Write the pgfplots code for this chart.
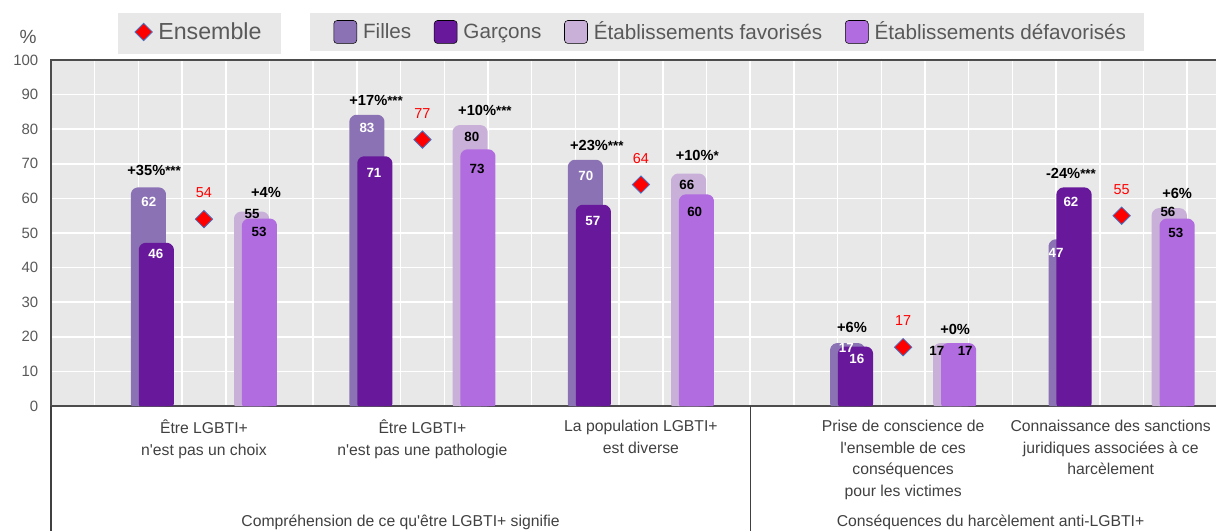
\documentclass[border=0pt]{standalone}
\usepackage{fontspec}
\setmainfont[Ligatures=TeXOff]{Liberation Sans}
\usepackage{pgfplots}
\pgfplotsset{compat=1.18}
\definecolor{filles}{RGB}{139,114,180}
\definecolor{garcons}{RGB}{104,25,155}
\definecolor{fav}{RGB}{200,176,216}
\definecolor{defav}{RGB}{177,108,224}
\definecolor{plotbg}{RGB}{232,232,232}
\definecolor{ensblue}{RGB}{68,114,196}
\definecolor{txtgrey}{RGB}{89,89,89}
\definecolor{labgrey}{RGB}{64,64,64}
\newcommand{\stars}[1]{{\fontsize{10}{10}\selectfont #1}}

\pgfplotsset{
  ensleg/.style={legend image code/.code={\draw[##1] plot coordinates {(0pt,0pt)};}},
  barleg/.style={legend image code/.code={\fill[##1,rounded corners=2.5pt] (0pt,-8.6pt) rectangle (17.25pt,8.6pt);}},
  rbar/.style={ybar, bar width=0.62, bar shift=0pt, fill=#1, draw=#1,
    line width=6pt, rounded corners=2pt, line join=round, forget plot},
}
\tikzset{
  wlab/.style={font=\bfseries\fontsize{10}{11}\selectfont, text=white},
  blab/.style={font=\bfseries\fontsize{10}{11}\selectfont, text=black},
  ann/.style={font=\bfseries\fontsize{11}{13}\selectfont, text=black},
}

\begin{document}
\begin{tikzpicture}
\begin{axis}[
  name=ax, scale only axis,
  width=884.9pt, height=259.5pt,
  xmin=0, xmax=27, ymin=0, ymax=100,
  axis background/.style={fill=plotbg},
  axis line style={black!70, line width=0.9pt},
  xtick={0,...,27}, xticklabels={},
  ytick={0,10,...,100},
  grid=major, grid style={white, line width=1.1pt},
  major tick length=0pt,
  /pgf/number format/assume math mode=true,
  yticklabel style={font=\fontsize{11.2}{13}\selectfont, text=txtgrey, xshift=-6pt},
  extra x ticks={3.5,8.5,13.5,19.5,24.25},
  extra x tick labels={{Être LGBTI+\\n'est pas un choix},
    {Être LGBTI+\\n'est pas une pathologie},
    {La population LGBTI+\\est diverse},
    {Prise de conscience de\\l'ensemble de ces\\conséquences\\pour les victimes},
    {Connaissance des sanctions\\juridiques associées à ce\\harcèlement}},
  extra x tick style={grid=none, major tick length=0pt,
    xticklabel style={align=center, anchor=north, yshift=-7pt,
      font=\fontsize{11.8}{16.3}\selectfont, text=labgrey}},
  clip mode=individual,
  legend columns=5,
  legend style={at={(axis cs:1.922,108.1)}, anchor=west,
    draw=none, fill=none, inner sep=0pt, outer sep=0pt,
    font=\fontsize{15.5}{18}\selectfont, text=txtgrey,
    nodes={inner sep=0pt},
    /tikz/every odd column/.append style={column sep=4.5pt},
    /tikz/every even column/.append style={column sep=17pt}},
]
% legend boxes
\fill[plotbg] (axis cs:1.533,113.6) rectangle (axis cs:5.263,101.7);
\fill[plotbg] (axis cs:5.927,113.6) rectangle (axis cs:25.01,102.6);

\addlegendimage{ensleg, only marks, mark=square*, mark size=4.6pt,
  mark options={rotate=45, fill=red, draw=ensblue, line width=0.6pt}}
\addlegendentry{\fontsize{17.4}{20}\selectfont Ensemble\hspace*{37pt}}
\addlegendimage{barleg, fill=filles}
\addlegendentry{Filles}
\addlegendimage{barleg, fill=garcons}
\addlegendentry{Garçons}
\addlegendimage{barleg, fill=fav}
\addlegendentry{Établissements favorisés}
\addlegendimage{barleg, fill=defav}
\addlegendentry{Établissements défavorisés}

% Filles / Garçons
\addplot[rbar=filles] coordinates {(2.23,62) (7.23,83) (12.23,70) (18.23,17) (23.23,47)};
\addplot[rbar=garcons] coordinates {(2.41,46) (7.41,71) (12.41,57) (18.41,16) (23.41,62)};
% favorisés / défavorisés
\addplot[rbar=fav] coordinates {(4.59,55) (9.59,80) (14.59,66) (20.59,17) (25.59,56)};
\addplot[rbar=defav] coordinates {(4.77,53) (9.77,73) (14.77,60) (20.77,17) (25.77,53)};
% Ensemble
\addplot[only marks, mark=square*, mark size=4.6pt,
  mark options={rotate=45, fill=red, draw=ensblue, line width=0.6pt},
  nodes near coords,
  nodes near coords style={text=red, font=\fontsize{10.8}{12}\selectfont,
    anchor=center, yshift=19.7pt},
  forget plot] coordinates {(3.5,54) (8.5,77) (13.5,64) (19.5,17) (24.5,55)};

% bar value labels
\node[wlab] at (axis cs:2.24,59.0) {62};
\node[wlab] at (axis cs:2.40,43.9) {46};
\node[wlab] at (axis cs:7.23,80.3) {83};
\node[wlab] at (axis cs:7.39,67.3) {71};
\node[wlab] at (axis cs:12.24,66.5) {70};
\node[wlab] at (axis cs:12.40,53.5) {57};
\node[wlab] at (axis cs:18.20,16.8) {17};
\node[wlab] at (axis cs:18.44,13.6) {16};
\node[wlab] at (axis cs:23.34,59.0) {62};
\node[wlab] at (axis cs:23.0,44.2) {47};
\node[blab] at (axis cs:4.60,55.5) {55};
\node[blab] at (axis cs:4.76,50.3) {53};
\node[blab] at (axis cs:9.63,77.8) {80};
\node[blab] at (axis cs:9.75,68.5) {73};
\node[blab] at (axis cs:14.55,63.9) {66};
\node[blab] at (axis cs:14.73,56.1) {60};
\node[blab] at (axis cs:20.27,15.9) {17};
\node[blab] at (axis cs:20.92,15.9) {17};
\node[blab] at (axis cs:25.56,56.0) {56};
\node[blab] at (axis cs:25.74,50.0) {53};

% gaps
\node[ann] at (axis cs:2.36,68.2) {+35\%\stars{***}};
\node[ann] at (axis cs:4.92,61.6) {+4\%};
\node[ann] at (axis cs:7.44,88.4) {+17\%\stars{***}};
\node[ann] at (axis cs:9.93,85.5) {+10\%\stars{***}};
\node[ann] at (axis cs:12.49,75.4) {+23\%\stars{***}};
\node[ann] at (axis cs:14.79,72.5) {+10\%\stars{*}};
\node[ann] at (axis cs:18.33,22.8) {+6\%};
\node[ann] at (axis cs:20.69,22.0) {+0\%};
\node[ann] at (axis cs:23.34,67.3) {-24\%\stars{***}};
\node[ann] at (axis cs:25.77,61.3) {+6\%};

% unit and group labels
\node[text=txtgrey, font=\fontsize{14.3}{16}\selectfont] at (axis cs:-0.526,106.6) {\%};
\draw[labgrey, line width=0.9pt] (axis cs:0,0) -- (axis cs:0,-38);
\draw[labgrey, line width=0.9pt] (axis cs:16,0) -- (axis cs:16,-38);
\node[text=labgrey, font=\fontsize{11.8}{14}\selectfont] at (axis cs:8,-33.5)
  {Compréhension de ce qu'être LGBTI+ signifie};
\node[text=labgrey, font=\fontsize{11.8}{14}\selectfont] at (axis cs:21.5,-33.5)
  {Conséquences du harcèlement anti-LGBTI+};
\end{axis}
\pgfresetboundingbox
\path[use as bounding box] ([xshift=-38.25pt,yshift=-93.75pt]ax.south west)
  rectangle ([xshift=873.75pt,yshift=304.5pt]ax.south west);
\end{tikzpicture}
\end{document}
